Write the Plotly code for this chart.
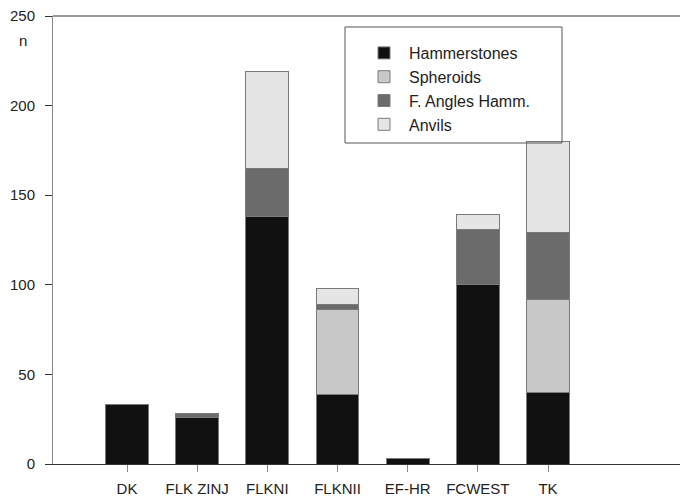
import plotly.graph_objects as go

sites = ["DK", "FLK ZINJ", "FLKNI", "FLKNII", "EF-HR", "FCWEST", "TK"]
series_names = ["Hammerstones", "Spheroids", "F. Angles Hamm.", "Anvils"]
hammerstones = [33, 26, 138, 39, 3, 100, 40]
spheroids = [0, 0, 0, 47, 0, 0, 52]
f_angles = [0, 2, 27, 3, 0, 31, 37]
anvils = [0, 0, 54, 9, 0, 8, 51]
y_ticks = [0, 50, 100, 150, 200, 250]

series_values = [hammerstones, spheroids, f_angles, anvils]
colors = ["#111111", "#c8c8c8", "#6b6b6b", "#e5e5e5"]

FONT = "Liberation Sans, Arial, sans-serif"

# page body has an 8px margin; plot area should span x 53..688, y 16..464
fig = go.Figure()
for name, vals, col in zip(series_names, series_values, colors):
    fig.add_trace(go.Bar(
        x=sites, y=vals, name=name,
        marker=dict(color=col, line=dict(color="#7a7a7a", width=1)),
        width=0.61,
    ))

fig.update_layout(
    barmode="stack",
    width=680, height=492,
    margin=dict(l=45, r=0, t=8, b=36),
    plot_bgcolor="white", paper_bgcolor="white",
    font=dict(family=FONT, size=15, color="#222222"),
    showlegend=True,
    legend=dict(
        x=(359 - 53) / 635, y=(464 - 36) / 448, xanchor="left", yanchor="top",
        bgcolor="rgba(0,0,0,0)", borderwidth=0,
        font=dict(size=16, color="#222222"),
        tracegroupgap=0, itemwidth=40,
        traceorder="normal",
    ),
    xaxis=dict(
        type="category", range=[-1.055, 7.995],
        showline=True, linecolor="#333333", linewidth=1,
        ticks="outside", ticklen=7, tickcolor="#888888",
        showgrid=False, zeroline=False,
        tickfont=dict(size=15, color="#222222"),
        ticklabelstandoff=4, ticklabeloverflow="allow",
    ),
    yaxis=dict(
        range=[0, 250], tickvals=y_ticks,
        showline=True, linecolor="#888888", linewidth=1,
        ticks="outside", ticklen=7, tickcolor="#333333",
        showgrid=False, zeroline=False,
        tickfont=dict(size=15, color="#222222"),
        ticklabelstandoff=7, ticklabeloverflow="allow",
    ),
    shapes=[
        dict(type="line", xref="paper", yref="paper", x0=0, x1=1, y0=1, y1=1,
             line=dict(color="#333333", width=1)),
        dict(type="rect", xref="paper", yref="paper",
             x0=(345 - 53) / 635, x1=(562 - 53) / 635,
             y0=(464 - 143) / 448, y1=(464 - 27) / 448,
             line=dict(color="#555555", width=1), fillcolor="rgba(0,0,0,0)"),
    ],
    annotations=[
        dict(text="n", xref="paper", yref="paper", x=(23 - 53) / 635, y=(464 - 40) / 448,
             showarrow=False, xanchor="center", yanchor="middle",
             font=dict(size=15, color="#222222")),
    ],
)

fig.write_html("out.html")
